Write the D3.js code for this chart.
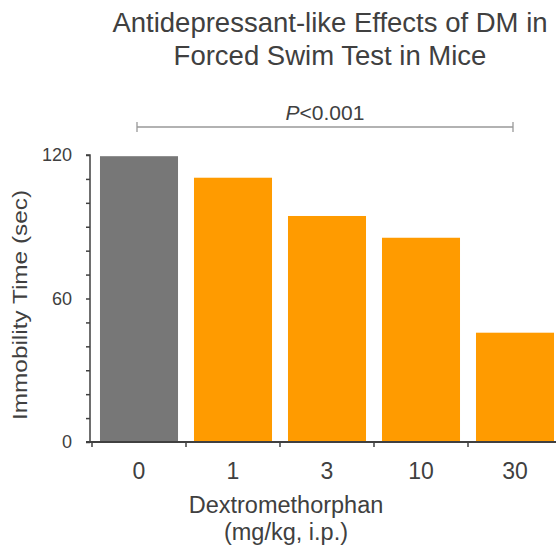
<!DOCTYPE html>
<html lang="en">
  <head>
    <meta charset="UTF-8" />
    <title>Forced Swim Test</title>
    <style>
      body { margin: 0; background: #fff; }
      svg { display: block; font-family: "Liberation Sans", Arial, sans-serif; }
    </style>
  </head>
  <body>
    <svg id="chart" width="556" height="549"></svg>

    <script src="https://d3js.org/d3.v7.min.js"></script>
    <script>
      // data
      const doses = ["0", "1", "3", "10", "30"];
      const immobility = [119.5, 110.5, 94.5, 85.4, 45.7];
      const yTicks = [0, 10, 20, 30, 40, 50, 60, 70, 80, 90, 100, 110, 120];
      const yLabels = [0, 60, 120];
      const titleLines = ["Antidepressant-like Effects of DM in", "Forced Swim Test in Mice"];

      const svg = d3.select("#chart");
      const ink = "#404040";

      const x = d3.scaleBand()
        .domain(doses)
        .range([92, 562])
        .paddingInner(0.17)
        .paddingOuter(0.085);

      const y = d3.scaleLinear().domain([0, 120]).range([442, 155]);

      // bars
      svg.selectAll("rect.bar")
        .data(doses.map((d, i) => ({ dose: d, v: immobility[i] })))
        .enter()
        .append("rect")
        .attr("class", "bar")
        .attr("x", d => x(d.dose))
        .attr("y", d => y(d.v))
        .attr("width", x.bandwidth())
        .attr("height", d => y(0) - y(d.v))
        .attr("fill", (d, i) => (i === 0 ? "#777777" : "#ff9b00"));

      // y axis
      const yAxis = svg.append("g")
        .attr("transform", "translate(90,0)")
        .call(
          d3.axisLeft(y)
            .tickValues(yTicks)
            .tickSize(4)
            .tickPadding(14)
            .tickFormat(d => (yLabels.includes(d) ? d : ""))
        );
      yAxis.selectAll("path, line").attr("stroke", ink).attr("stroke-width", 1.5);
      yAxis.select("path").attr("d", `M-4,${y(120)}H0V${y(0)}`);
      yAxis.selectAll("text")
        .attr("fill", ink)
        .style("font-size", "18px")
        .style("font-family", "Liberation Sans, Arial, sans-serif");

      // x axis (ticks at band edges)
      const xa = svg.append("g").attr("transform", `translate(0,${y(0)})`);
      xa.append("line")
        .attr("x1", 86).attr("x2", 556)
        .attr("stroke", ink).attr("stroke-width", 2);
      const edges = doses.map(d => x(d) - (x.step() * x.paddingInner()) / 2);
      xa.selectAll("line.tick")
        .data(edges)
        .enter()
        .append("line")
        .attr("class", "tick")
        .attr("x1", d => d).attr("x2", d => d)
        .attr("y1", 0).attr("y2", 5)
        .attr("stroke", ink).attr("stroke-width", 1.5);
      xa.selectAll("text")
        .data(doses)
        .enter()
        .append("text")
        .attr("x", d => x(d) + x.bandwidth() / 2)
        .attr("y", 37)
        .attr("text-anchor", "middle")
        .attr("fill", ink)
        .style("font-size", "23px")
        .text(d => d);

      // axis titles
      svg.append("text")
        .attr("x", 286).attr("y", 513)
        .attr("text-anchor", "middle")
        .attr("fill", ink)
        .style("font-size", "23.5px")
        .text("Dextromethorphan");
      svg.append("text")
        .attr("x", 286).attr("y", 540)
        .attr("text-anchor", "middle")
        .attr("fill", ink)
        .style("font-size", "23.5px")
        .text("(mg/kg, i.p.)");
      svg.append("text")
        .attr("transform", "translate(27,305) rotate(-90)")
        .attr("text-anchor", "middle")
        .attr("fill", ink)
        .attr("textLength", 230)
        .attr("lengthAdjust", "spacingAndGlyphs")
        .style("font-size", "21px")
        .text("Immobility Time (sec)");

      // title
      svg.selectAll("text.title")
        .data(titleLines)
        .enter()
        .append("text")
        .attr("class", "title")
        .attr("x", 330)
        .attr("y", (d, i) => 32 + i * 33)
        .attr("text-anchor", "middle")
        .attr("fill", ink)
        .style("font-size", "27.5px")
        .text(d => d);

      // significance bracket
      const bx1 = x(doses[0]) + x.bandwidth() / 2 - 2;
      const bx2 = x(doses[4]) + x.bandwidth() / 2 - 2;
      const by = 127;
      const br = svg.append("g").attr("stroke", "#999").attr("stroke-width", 1.3);
      br.append("line").attr("x1", bx1).attr("x2", bx2).attr("y1", by).attr("y2", by);
      br.append("line").attr("x1", bx1).attr("x2", bx1).attr("y1", by - 5).attr("y2", by + 5);
      br.append("line").attr("x1", bx2).attr("x2", bx2).attr("y1", by - 5).attr("y2", by + 5);
      const p = svg.append("text")
        .attr("x", (bx1 + bx2) / 2)
        .attr("y", 120)
        .attr("text-anchor", "middle")
        .attr("fill", ink)
        .style("font-size", "21px");
      p.append("tspan").style("font-style", "italic").text("P");
      p.append("tspan").text("<0.001");
    </script>
  </body>
</html>
